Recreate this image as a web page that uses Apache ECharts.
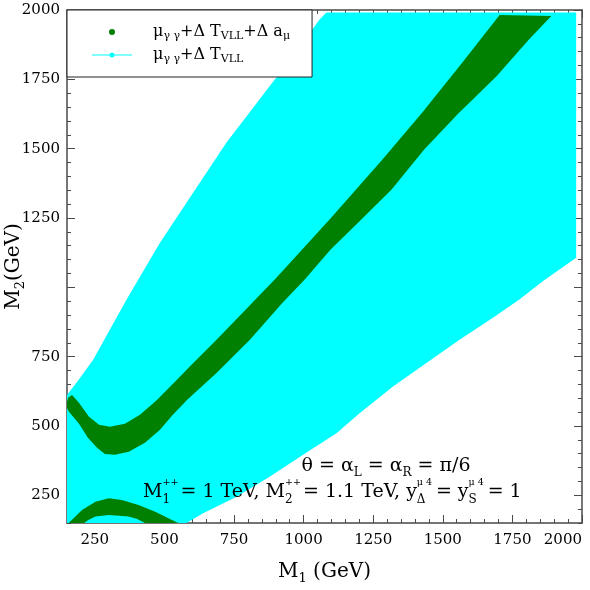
<!DOCTYPE html>
<html>
<head>
<meta charset="utf-8">
<script src="https://cdn.jsdelivr.net/npm/echarts@6/dist/echarts.min.js"></script>
<style>html,body{margin:0;padding:0;background:#fff}#c{width:590px;height:590px}</style>
</head>
<body>
<div id="c"></div>
<script>
// ---- axis ticks / labels ----
const xTickValues = [250, 500, 750, 1000, 1250, 1500, 1750, 2000];
const yTickValues = [250, 500, 750, 1000, 1250, 1500, 1750, 2000];
const yLabelValues = [250, 500, 750, 1250, 1500, 1750, 2000];

// ---- cyan region (mu_gg + Delta T_VLL), boundary in (M1, M2) GeV ----
const cyanUpperLeftEdge = [[150,612],[192,667],[244,739],[364,956],[484,1161],[603,1341],[723,1522],[842,1678],[962,1835],[1058,1967],[1082,1991]];
const cyanRightEdge = [[1979,1991],[1979,1107]];
const cyanLowerRightEdge = [[1919,1064],[1859,1022],[1775,956],[1680,890],[1560,811],[1441,727],[1321,642],[1201,546],[1118,474],[998,396],[878,317],[759,245],[639,185],[579,150]];
const cyanCorner = [[150,150]];

// ---- green band (mu_gg + Delta T_VLL + Delta a_mu) ----
const greenBandUpperEdge = [[150,587],[154,602],[168,612],[193,584],[229,533],[265,504],[304,497],[358,508],[412,540],[473,594],[545,667],[591,714],[688,812],[782,909],[903,1035],[1094,1245],[1284,1462],[1427,1631],[1571,1812],[1704,1982]];
const greenBandLowerEdge = [[1890,1978],[1811,1895],[1693,1761],[1553,1624],[1434,1498],[1316,1353],[1201,1238],[1097,1136],[1004,1028],[925,945],[807,811],[688,692],[581,594],[527,537],[484,486],[430,439],[372,407],[322,396],[286,399],[258,421],[225,457],[193,508],[157,551],[150,565]];
// lower small arc
const greenArcUpperEdge = [[156,150],[204,197],[252,227],[300,239],[347,233],[407,215],[467,191],[527,161],[550,150]];
const greenArcLowerEdge = [[430,150],[400,165],[370,173],[300,179],[252,173],[225,160],[212,150]];

const cyanPolygon = [].concat(cyanUpperLeftEdge, cyanRightEdge, cyanLowerRightEdge, cyanCorner);
const greenBandPolygon = [].concat(greenBandUpperEdge, greenBandLowerEdge);
const greenArcPolygon = [].concat(greenArcUpperEdge, greenArcLowerEdge);

const FONT = 'DejaVu Serif';
const GREEN = '#008000', CYAN = '#00ffff', AXIS = '#4a4a4a';

function polygonItem(points, color) {
  return function (params, api) {
    if (params.dataIndex !== 0) return null;
    return {
      type: 'polygon',
      shape: { points: points.map(p => api.coord(p)) },
      style: { fill: color }
    };
  };
}

const chart = echarts.init(document.getElementById('c'), null, { renderer: 'canvas' });

function majorAxis(pos, dim, ticks, labels) {
  const isX = dim === 'x';
  const showLabel = pos === 'bottom' || pos === 'left';
  return {
    type: 'value', position: pos, min: 150, max: 2000, interval: 50,
    axisLine: { show: true, onZero: false, lineStyle: { color: AXIS, width: 1.5 } },
    axisTick: { show: true, inside: true, length: 8, customValues: ticks, lineStyle: { color: AXIS, width: 1 } },
    axisLabel: {
      show: showLabel, customValues: labels, fontFamily: FONT, fontSize: 15, color: '#000',
      margin: isX ? 10 : 7, alignMaxLabel: isX ? 'right' : null,
      formatter: v => String(v)
    },
    splitLine: { show: false }
  };
}
function minorAxis(pos) {
  return {
    type: 'value', position: pos, min: 150, max: 2000, interval: 50,
    axisLine: { show: false, onZero: false },
    axisTick: { show: true, inside: true, length: 4, lineStyle: { color: AXIS, width: 1 } },
    axisLabel: { show: false },
    splitLine: { show: false }
  };
}

const nameStyle = {
  fontFamily: FONT, fontSize: 20, color: '#000',
  rich: {
    n: { fontFamily: FONT, fontSize: 20, color: '#000', lineHeight: 26 },
    s: { fontFamily: FONT, fontSize: 13, color: '#000', lineHeight: 13, verticalAlign: 'bottom' }
  }
};
const xMain = majorAxis('bottom', 'x', xTickValues, xTickValues);
xMain.name = '{n|M}{s|1}{n| (GeV)}';
xMain.nameLocation = 'middle';
xMain.nameGap = 36;
xMain.nameMoveOverlap = false;
xMain.nameTextStyle = nameStyle;
const yMain = majorAxis('left', 'y', yTickValues, yLabelValues);
yMain.name = '{n|M}{s|2}{n|(GeV)}';
yMain.nameLocation = 'middle';
yMain.nameRotate = 90;
yMain.nameGap = 40;
yMain.nameMoveOverlap = false;
yMain.nameTextStyle = nameStyle;

const legendRich = {
  n: { fontFamily: FONT, fontSize: 16, color: '#000', lineHeight: 20 },
  s: { fontFamily: FONT, fontSize: 11, color: '#000', lineHeight: 11, verticalAlign: 'bottom' }
};
const legendLabels = {
  'allowed_all': '{n|μ}{s|γ γ}{n|+Δ T}{s|VLL}{n|+Δ a}{s|μ}',
  'allowed_T': '{n|μ}{s|γ γ}{n|+Δ T}{s|VLL}'
};

const option = {
  animation: false,
  backgroundColor: '#fff',
  grid: { left: 67, right: 8, top: 10, bottom: 67, containLabel: false, outerBoundsMode: 'none' },
  xAxis: [xMain, minorAxis('bottom'), majorAxis('top', 'x', xTickValues, []), minorAxis('top')],
  yAxis: [yMain, minorAxis('left'), majorAxis('right', 'y', yTickValues, []), minorAxis('right')],
  legend: {
    orient: 'vertical', left: 67, top: 10,
    padding: [14, 22, 12, 25], itemGap: 5,
    itemWidth: 56, itemHeight: 10,
    backgroundColor: '#fff', borderColor: '#222', borderWidth: 1,
    data: [
      { name: 'allowed_all', icon: 'path://M0,0L0,0ZM56,10L56,10ZM17,5a3,3 0 1,1 6,0a3,3 0 1,1 -6,0Z' },
      { name: 'allowed_T', icon: 'path://M0,0L0,0ZM56,10L56,10ZM0,4.5L40,4.5L40,5.5L0,5.5ZM17.5,5a2.5,2.5 0 1,1 5,0a2.5,2.5 0 1,1 -5,0Z' }
    ],
    formatter: name => legendLabels[name],
    textStyle: { fontFamily: FONT, fontSize: 16, color: '#000', rich: legendRich }
  },
  series: [
    {
      name: 'allowed_T', type: 'custom', xAxisIndex: 0, yAxisIndex: 0,
      itemStyle: { color: CYAN }, encode: { x: 0, y: 1 },
      renderItem: polygonItem(cyanPolygon, CYAN), data: cyanPolygon, clip: true, z: 2
    },
    {
      name: 'allowed_all', type: 'custom', xAxisIndex: 0, yAxisIndex: 0,
      itemStyle: { color: GREEN }, encode: { x: 0, y: 1 },
      renderItem: polygonItem(greenBandPolygon, GREEN), data: greenBandPolygon, clip: true, z: 3
    },
    {
      name: 'allowed_all', type: 'custom', xAxisIndex: 0, yAxisIndex: 0,
      itemStyle: { color: GREEN }, encode: { x: 0, y: 1 },
      renderItem: polygonItem(greenArcPolygon, GREEN), data: greenArcPolygon, clip: true, z: 3
    }
  ],
  graphic: [
    {
      type: 'text', z: 100, x: 386, y: 466,
      style: {
        text: '{n|θ = α}{s|L}{n| = α}{s|R}{n| = π/6}',
        x: 0, y: 0, align: 'center', verticalAlign: 'middle',
        rich: {
          n: { fontFamily: FONT, fontSize: 19, color: '#000', lineHeight: 26 },
          s: { fontFamily: FONT, fontSize: 12, color: '#000', lineHeight: 12, verticalAlign: 'bottom' }
        }
      }
    },
    {
      type: 'text', z: 100, x: 143, y: 492,
      style: {
        text: '{n|M}{p|++}{b1|1}{n| = 1 TeV, M}{p|++}{b1|2}{n| = 1.1 TeV, y}{p|μ 4}{b2|Δ}{n| = y}{p|μ 4}{b2|S}{n| = 1}',
        x: 0, y: 0, align: 'left', verticalAlign: 'middle',
        rich: {
          n: { fontFamily: FONT, fontSize: 19, color: '#000', lineHeight: 28 },
          p: { fontFamily: FONT, fontSize: 9.5, color: '#000', lineHeight: 12, verticalAlign: 'top', width: 0 },
          b1: { fontFamily: FONT, fontSize: 12, color: '#000', lineHeight: 12, verticalAlign: 'bottom', width: 12 },
          b2: { fontFamily: FONT, fontSize: 12, color: '#000', lineHeight: 12, verticalAlign: 'bottom', width: 13 }
        }
      }
    }
  ]
};
chart.setOption(option);
</script>
</body>
</html>
